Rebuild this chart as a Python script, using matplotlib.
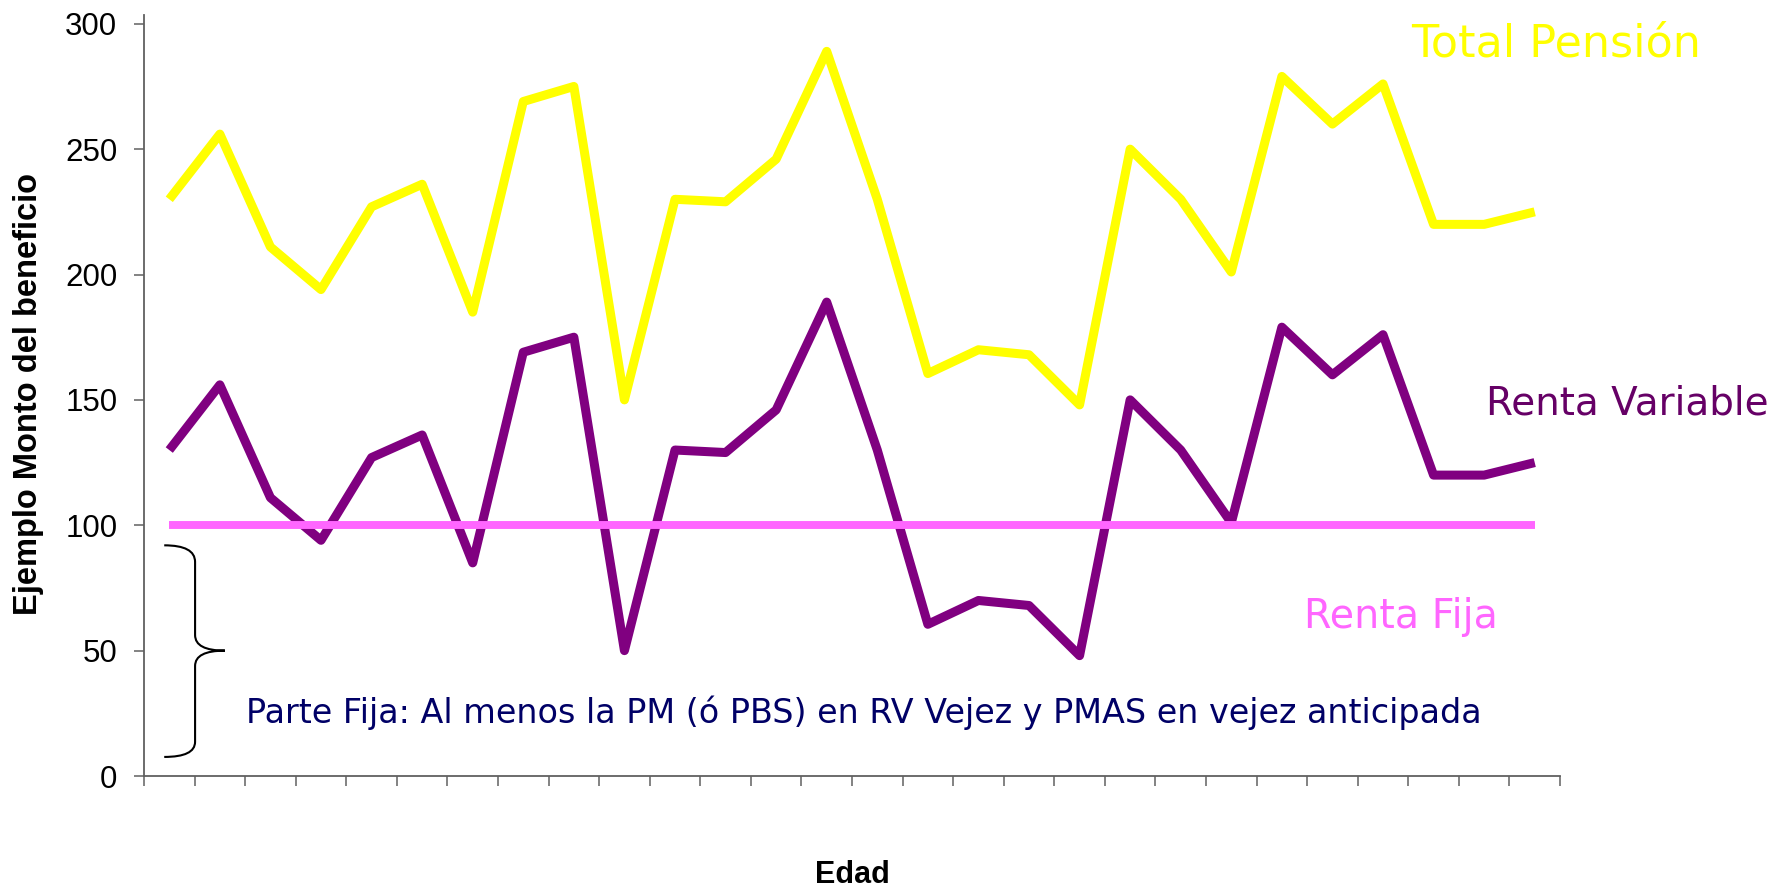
import numpy as np
import matplotlib
matplotlib.use("Agg")
from matplotlib import pyplot as plt
from matplotlib.path import Path
from matplotlib.patches import PathPatch

# 28 edades sin etiqueta en el eje
edades = list(range(28))

# Renta fija: constante de 100
renta_fija = [100, 100, 100, 100, 100, 100, 100, 100, 100, 100, 100, 100, 100, 100,
              100, 100, 100, 100, 100, 100, 100, 100, 100, 100, 100, 100, 100, 100]
# Renta variable
renta_variable = [130, 156, 111, 94, 127, 136, 85, 169, 175, 50, 130, 129, 146, 189,
                  130, 60.5, 70, 68, 48, 150, 130, 101, 179, 160, 176, 120, 120, 125]
# Total pension
total_pension = [230, 256, 211, 194, 227, 236, 185, 269, 275, 150, 230, 229, 246, 289,
                 230, 160.5, 170, 168, 148, 250, 230, 201, 279, 260, 276, 220, 220, 225]

y_ticks = [0, 50, 100, 150, 200, 250, 300]

fig = plt.figure(figsize=(17.83, 8.92), dpi=100)
ax = fig.add_axes([144 / 1783, 116 / 892, 1416 / 1783, 761 / 892])

lw = 6.5
ax.plot(edades, total_pension, color='#FFFF00', lw=lw, solid_joinstyle='round', solid_capstyle='butt')
ax.plot(edades, renta_variable, color='#800080', lw=lw, solid_joinstyle='round', solid_capstyle='butt')
ax.plot(edades, renta_fija, color='#FF66FF', lw=lw - 0.8, solid_capstyle='butt')

ax.set_xlim(-0.5, len(edades) - 0.5)
ax.set_ylim(0, 303.5)

# ticks del eje x en los bordes de cada categoria, sin texto
ax.set_xticks(np.arange(-0.5, len(edades), 1))
ax.set_xticklabels([])
ax.set_yticks(y_ticks)
ax.set_yticklabels([str(v) for v in y_ticks], fontfamily='Liberation Sans', fontsize=22.5)
ax.tick_params(axis='both', direction='out', length=7.2, width=1.1, color='#606060')
ax.tick_params(axis='y', pad=12)

for s in ['top', 'right']:
    ax.spines[s].set_visible(False)
for s in ['left', 'bottom']:
    ax.spines[s].set_color('#606060')
    ax.spines[s].set_linewidth(1.3)

# etiquetas de ejes
fig.text(29 / 1783, 1 - 394 / 892, 'Ejemplo Monto del beneficio', rotation=90,
         ha='center', va='center', fontfamily='Liberation Sans', fontweight='bold', fontsize=23.5)
fig.text(852 / 1783, 9 / 892, 'Edad', ha='center', va='baseline',
         fontfamily='Liberation Sans', fontweight='bold', fontsize=22)

# rotulos de las series
ax.text(24.55, 286.8, 'Total Pensión', color='#FFFF00', fontsize=32, ha='left', va='baseline')
ax.text(26.04, 144.0, 'Renta Variable', color='#660066', fontsize=28, ha='left', va='baseline')
ax.text(22.44, 59.0, 'Renta Fija', color='#FF66FF', fontsize=28.5, ha='left', va='baseline')
ax.text(1.52, 21.1, 'Parte Fija: Al menos la PM (ó PBS) en RV Vejez y PMAS en vejez anticipada',
        color='#000066', fontsize=24, ha='left', va='baseline')

# llave que marca la parte fija
xv, xe, xt = 0.51, -0.1, 1.1
verts = [(xe, 92), (xv, 92), (xv, 85.4),
         (xv, 56.2),
         (xv, 50), (xt, 50),
         (xv, 50), (xv, 43.9),
         (xv, 13.6),
         (xv, 7.6), (xe, 7.6)]
codes = [Path.MOVETO, Path.CURVE3, Path.CURVE3,
         Path.LINETO,
         Path.CURVE3, Path.CURVE3,
         Path.CURVE3, Path.CURVE3,
         Path.LINETO,
         Path.CURVE3, Path.CURVE3]
brace = PathPatch(Path(verts, codes), facecolor='none', edgecolor='black', lw=1.5)
ax.add_patch(brace)

fig.savefig('out.png', dpi=100)
